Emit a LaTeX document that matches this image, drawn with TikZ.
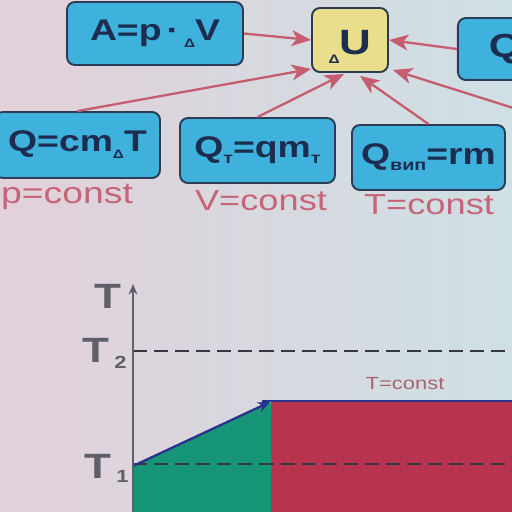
\documentclass[tikz,border=0pt]{standalone}
\usepackage{fontspec}
\setmainfont[FakeStretch=1.25]{Liberation Sans}
\usetikzlibrary{arrows.meta,calc}
\definecolor{bgL}{RGB}{226,208,218}
\definecolor{bgR}{RGB}{206,224,228}
\definecolor{boxblue}{RGB}{62,178,220}
\definecolor{boxline}{RGB}{45,60,85}
\definecolor{boxtext}{RGB}{28,45,80}
\definecolor{uyellow}{RGB}{232,222,140}
\definecolor{arrowred}{RGB}{198,92,112}
\definecolor{constred}{RGB}{200,100,120}
\definecolor{axisgray}{RGB}{95,95,105}
\definecolor{dashgray}{RGB}{55,55,65}
\definecolor{greenfill}{RGB}{22,150,118}
\definecolor{redfill}{RGB}{184,52,78}
\definecolor{blueline}{RGB}{40,50,140}
\newcommand\dsm{\raisebox{-0.45ex}{\fontsize{7}{7}\selectfont Δ}}
\newcommand\lowsub[1]{\raisebox{-0.35ex}{\fontsize{9}{9}\selectfont #1}}
\begin{document}
\begin{tikzpicture}[x=0.02cm,y=-0.02cm,
 formula/.style={draw=boxline, line width=1.1pt, fill=boxblue, rounded corners=4.5pt, inner sep=0pt, text=boxtext, font=\fontsize{17}{20}\selectfont\bfseries},
 ubox/.style={formula, fill=uyellow, font=\fontsize{20}{20}\selectfont\bfseries},
 feed/.style={draw=arrowred, line width=1.3pt, -{Stealth[length=11pt,width=9pt,inset=3pt]}},
 cond/.style={text=constred, font=\fontsize{16.5}{18}\selectfont, inner sep=0pt},
 axislabel/.style={text=axisgray, font=\fontsize{20}{22}\selectfont\bfseries, inner sep=0pt},
 level/.style={draw=dashgray, line width=1.1pt, dash pattern=on 8pt off 4pt},
]
\useasboundingbox (0,0) rectangle (512,512);
\clip (0,0) rectangle (512,512);
\shade[left color=bgL, right color=bgR] (0,0) rectangle (512,512);

% boxes
\node[formula, minimum width=3.52cm, minimum height=1.26cm] (A) at (155,33.5) {A=p\,·\,\dsm V};
\node[ubox, minimum width=1.52cm, minimum height=1.28cm, text depth=0pt] (U) at (350,40) {\raisebox{-3pt}{\dsm U}};
\node[formula, anchor=west, inner xsep=0.62cm, minimum height=1.24cm, font=\fontsize{19}{20}\selectfont\bfseries] (Qr) at (457,49) {Q};
\node[formula, minimum width=3.3cm, minimum height=1.32cm] (Qc) at (77.5,145) {Q=cm\dsm T\hspace{6pt}};
\node[formula, minimum width=3.1cm, minimum height=1.3cm] (QT) at (257.5,150.5) {Q\lowsub{т}=qm\lowsub{т}};
\node[formula, minimum width=3.06cm, minimum height=1.3cm] (Qv) at (428.5,157.5) {Q\lowsub{вип}=rm};

% conditions
\node[cond, font=\fontsize{17}{18}\selectfont] (pc) at (67,197) {p=const};
\node[cond] (vc) at (261,201) {V=const};
\node[cond] (tc) at (429,205) {T=const};

% arrows
\draw[feed] (A.east) -- (U.west);
\draw[feed] (Qr.west) -- (U.east);
\draw[feed] (Qc.north) -- ($(U.south west)+(0,-4)$);
\draw[feed] (QT.north) -- ($(U.south)+(-6,1)$);
\draw[feed] (Qv.north) -- ($(U.south)+(10,3)$);
\coordinate (far) at (545,118);
\draw[feed] (far) -- ($(U.south east)+(4,-3)$);

% graph
\fill[greenfill] (133,466) -- (268,403) -- (271,403) -- (271,512) -- (133,512) -- cycle;
\fill[redfill] (271,402) rectangle (520,512);
\draw[level] (133,351) -- (512,351);
\draw[level] (133,464) -- (512,464);
\coordinate (p1) at (133,466);
\coordinate (p2) at (270,402);
\coordinate (p3) at (520,401);
\draw[draw=blueline, line width=1.3pt, -{Stealth[length=7pt,width=6pt]}] (p1) -- (p2);
\draw[draw=blueline, line width=1.3pt] (262,401) -- (p3);
\coordinate (o) at (133,512);
\coordinate (top) at (133,284);
\draw[draw=axisgray, line width=1pt, -{Stealth[length=6pt,width=5pt]}] (o) -- (top);
\node[axislabel] (tl) at (108,296) {T};
\node[axislabel, anchor=base west] (t2) at (82,362) {T\hspace{3pt}\raisebox{-3.6pt}{\fontsize{10}{10}\selectfont 2}};
\node[axislabel, anchor=base west] (t1) at (84,478) {T\hspace{3pt}\raisebox{-2.6pt}{\fontsize{10}{10}\selectfont 1}};
\node[text={rgb,255:red,170;green,100;blue,110}, font=\fontsize{10}{11}\selectfont, inner sep=0pt] (tconst) at (405,384) {T=const};
\end{tikzpicture}
\end{document}
